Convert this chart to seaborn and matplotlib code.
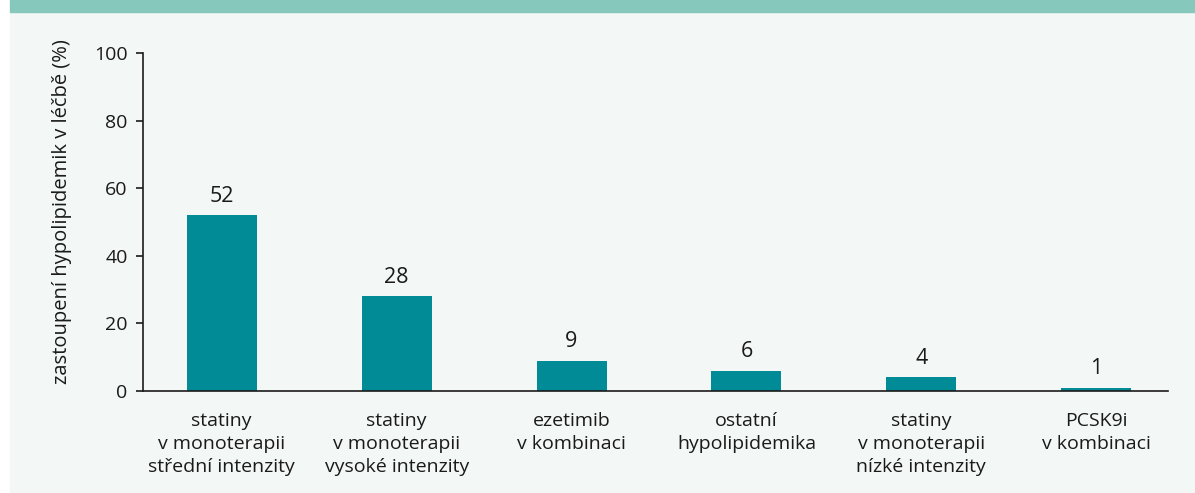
import matplotlib
matplotlib.use("Agg")
import matplotlib.pyplot as plt
import seaborn as sns
import pandas as pd

# Data
categories = [
    "statiny\nv monoterapii\nstřední intenzity",
    "statiny\nv monoterapii\nvysoké intenzity",
    "ezetimib\nv kombinaci",
    "ostatní\nhypolipidemika",
    "statiny\nv monoterapii\nnízké intenzity",
    "PCSK9i\nv kombinaci",
]
values = [52, 28, 9, 6, 4, 1]
y_ticks = [0, 20, 40, 60, 80, 100]

BAR_COLOR = "#008b96"
BG_COLOR = "#f3f7f6"
BAND_COLOR = "#86c9bc"
TEXT_COLOR = "#1a1a1a"

sns.set_theme(style="white")
plt.rcParams["font.family"] = ["Open Sans", "DejaVu Sans"]

df = pd.DataFrame({"kategorie": categories, "hodnota": values})

fig = plt.figure(figsize=(11.95, 4.93), dpi=100)
fig.patch.set_facecolor("white")

# light panel background and teal band at the top
fig.patches.append(plt.Rectangle((10 / 1195, 0), 1 - 10 / 1195, 1 - 12 / 493,
                                 transform=fig.transFigure, color=BG_COLOR, zorder=-2))
fig.patches.append(plt.Rectangle((10 / 1195, 1 - 12 / 493), 1 - 10 / 1195, 12 / 493,
                                 transform=fig.transFigure, color=BAND_COLOR, zorder=-1))

ax = fig.add_axes([143 / 1195, 1 - 391 / 493, (1168 - 143) / 1195, (391 - 53) / 493])
ax.set_facecolor("none")

sns.barplot(data=df, x="kategorie", y="hodnota", color=BAR_COLOR, width=0.4,
            saturation=1, linewidth=0, ax=ax)

for i, v in enumerate(values):
    ax.text(i, v + 2.5, str(v), ha="center", va="bottom", fontsize=15.5, color=TEXT_COLOR)

ax.set_xlim(-0.45, 5.41)
ax.set_ylim(0, 100)
ax.set_yticks(y_ticks)
ax.set_ylabel("zastoupení hypolipidemik v léčbě (%)", fontsize=14.5, color=TEXT_COLOR)
ax.yaxis.set_label_coords(-0.069, 0.53)
ax.set_xlabel("")

for s in ["top", "right"]:
    ax.spines[s].set_visible(False)
for s in ["left", "bottom"]:
    ax.spines[s].set_color(TEXT_COLOR)
    ax.spines[s].set_linewidth(1.2)

ax.tick_params(axis="y", left=True, length=5, width=1.2, color=TEXT_COLOR,
               labelsize=14, labelcolor=TEXT_COLOR, pad=6)
ax.tick_params(axis="x", bottom=False, labelsize=14, labelcolor=TEXT_COLOR, pad=9)
for lbl in ax.get_xticklabels():
    lbl.set_linespacing(1.35)

fig.savefig("out.png", dpi=100, facecolor=fig.get_facecolor())
